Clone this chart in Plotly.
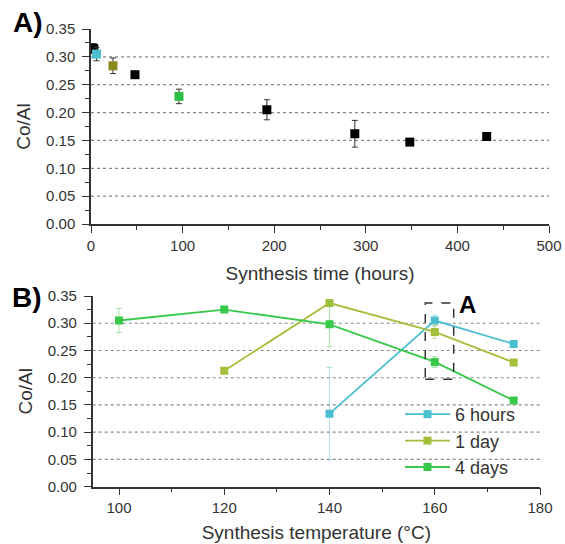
import plotly.graph_objects as go

# ---- Panel A data ----
time_black = [3, 48, 192, 288, 348, 432]
co_black = [0.315, 0.268, 0.205, 0.162, 0.147, 0.157]
err_black = [0.009, 0.0, 0.018, 0.024, 0.0, 0.0]
time_cyan = [6]
co_cyan = [0.305]
err_cyan = [0.012]
time_olive = [24]
co_olive = [0.284]
err_olive = [0.014]
time_green = [96]
co_green = [0.229]
err_green = [0.013]

# ---- Panel B data ----
temp_6h = [140, 160, 175]
co_6h = [0.134, 0.305, 0.262]
err_6h = [0.085, 0.010, 0.0]
temp_1d = [120, 140, 160, 175]
co_1d = [0.213, 0.337, 0.284, 0.228]
err_1d = [0.0, 0.0, 0.012, 0.0]
temp_4d = [100, 120, 140, 160, 175]
co_4d = [0.305, 0.325, 0.298, 0.229, 0.158]
err_4d = [0.022, 0.0, 0.041, 0.010, 0.0]

grid_vals = [0.05, 0.10, 0.15, 0.20, 0.25, 0.30]
y_ticks = [0.00, 0.05, 0.10, 0.15, 0.20, 0.25, 0.30, 0.35]
y_ticktext = ["%.2f" % v for v in y_ticks]

FONT = "Liberation Sans, Arial, sans-serif"
TXT = "#333333"

C_CYAN = "#4BBFD0"
C_OLIVE_A = "#8C8A1C"
C_GREEN_A = "#2DBE45"
C_1D = "#A4BF3A"
C_4D = "#38C94A"

fig = go.Figure()

def pts(x, y, e, color, xa, ya, size=9):
    fig.add_trace(go.Scatter(
        x=x, y=y, mode="markers", xaxis=xa, yaxis=ya, showlegend=False,
        marker=dict(symbol="square", size=size, color=color),
        error_y=dict(type="data", array=e, visible=True, color="#333333",
                     thickness=1, width=3)))

pts(time_black, co_black, err_black, "black", "x", "y")
pts(time_olive, co_olive, err_olive, C_OLIVE_A, "x", "y")
pts(time_green, co_green, err_green, C_GREEN_A, "x", "y")
pts(time_cyan, co_cyan, err_cyan, C_CYAN, "x", "y")

def line(x, y, e, color, name, ecolor):
    fig.add_trace(go.Scatter(
        x=x, y=y, mode="lines+markers", xaxis="x2", yaxis="y2", name=name,
        line=dict(color=color, width=1.8),
        marker=dict(symbol="square", size=8, color=color),
        error_y=dict(type="data", array=e, visible=True, color=ecolor,
                     thickness=1, width=3)))

line(temp_6h, co_6h, err_6h, C_CYAN, "6 hours", "rgba(75,191,208,0.45)")
line(temp_1d, co_1d, err_1d, C_1D, "1 day", "rgba(164,191,58,0.5)")
line(temp_4d, co_4d, err_4d, C_4D, "4 days", "rgba(56,201,74,0.45)")

W, H = 565, 544
def px(v):
    return v / W
def py(v):
    return 1 - v / H

dxA = [px(91), px(549)]
dyA = [py(224), py(29)]
dxB = [px(92.7), px(540)]
dyB = [py(486.7), py(296)]

axis_common = dict(showline=True, linecolor="#333333", linewidth=1.5,
                   ticks="outside", ticklen=7, tickwidth=1.2, tickcolor="#333333",
                   showgrid=False, zeroline=False, automargin=False,
                   tickfont=dict(family=FONT, size=15, color=TXT))
TF = dict(size=19, family=FONT, color=TXT)

fig.update_layout(
    width=W, height=H, margin=dict(l=0, r=0, t=0, b=0),
    paper_bgcolor="white", plot_bgcolor="white",
    font=dict(family=FONT, color=TXT),
    xaxis=dict(domain=dxA, anchor="y", range=[0, 500], tickvals=[0, 100, 200, 300, 400, 500],
               minor=dict(tickvals=[50, 150, 250, 350, 450], ticklen=4, ticks="outside", tickcolor="#333333"),
               title=dict(text="Synthesis time (hours)", font=TF, standoff=14),
               **axis_common),
    yaxis=dict(domain=dyA, anchor="x", range=[0, 0.35], tickvals=y_ticks, ticktext=y_ticktext,
               minor=dict(dtick=0.025, ticklen=4, ticks="outside", tickcolor="#333333"),
               title=dict(text="Co/Al", font=TF, standoff=10), ticklabelstandoff=4,
               **axis_common),
    xaxis2=dict(domain=dxB, anchor="y2", range=[95, 180], tickvals=[100, 120, 140, 160, 180],
                minor=dict(tickvals=[110, 130, 150, 170], ticklen=4, ticks="outside", tickcolor="#333333"),
                title=dict(text="Synthesis temperature (°C)", font=TF, standoff=10),
                **axis_common),
    yaxis2=dict(domain=dyB, anchor="x2", range=[0, 0.35], tickvals=y_ticks, ticktext=y_ticktext,
                minor=dict(dtick=0.025, ticklen=4, ticks="outside", tickcolor="#333333"),
                title=dict(text="Co/Al", font=TF, standoff=10), ticklabelstandoff=4,
                **axis_common),
    legend=dict(x=px(400), y=py(396), xanchor="left", yanchor="top", bgcolor="rgba(0,0,0,0)",
                font=dict(family=FONT, size=18, color=TXT), tracegroupgap=0, itemwidth=45),
)

shapes = []
for v in grid_vals:
    for xr, yr in (("x domain", "y"), ("x2 domain", "y2")):
        shapes.append(dict(type="line", xref=xr, yref=yr, x0=0, x1=1, y0=v, y1=v,
                           line=dict(color="#888888", width=1.2, dash="dot"), layer="below"))
# highlight box around 160 °C
shapes.append(dict(type="rect", xref="x2", yref="y2", x0=158.2, x1=163.6, y0=0.197, y1=0.337,
                   line=dict(color="#333333", width=1.5, dash="dash")))
fig.update_layout(shapes=shapes)

fig.add_annotation(text="<b>A)</b>", xref="paper", yref="paper", x=px(11), y=py(23),
                   xanchor="left", yanchor="middle", showarrow=False,
                   font=dict(family="Liberation Sans", size=28, color="black"))
fig.add_annotation(text="<b>B)</b>", xref="paper", yref="paper", x=px(10), y=py(297),
                   xanchor="left", yanchor="middle", showarrow=False,
                   font=dict(family="Liberation Sans", size=28, color="black"))
fig.add_annotation(text="<b>A</b>", xref="x2", yref="y2", x=164.3, y=0.335,
                   xanchor="left", yanchor="middle", showarrow=False,
                   font=dict(family="Liberation Sans", size=24, color="black"))

fig.write_html("out.html", config={"displayModeBar": False},
               post_script="document.body.style.margin='0';document.body.style.overflow='hidden';")
